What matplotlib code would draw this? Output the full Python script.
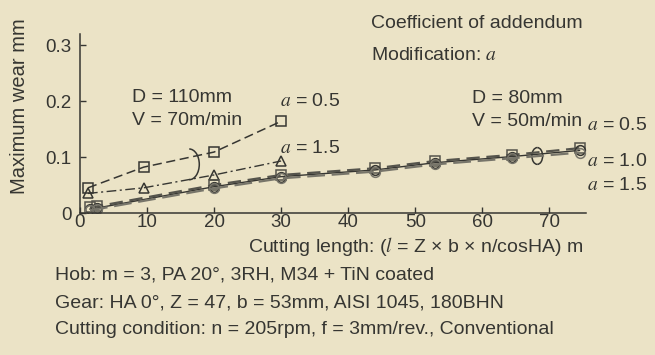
import matplotlib.pyplot as plt
from matplotlib.patches import Arc

plt.rcParams['font.family'] = ['Liberation Sans', 'DejaVu Sans']
plt.rcParams['mathtext.fontset'] = 'stix'

bg = '#ebe3c6'
ink = '#363632'

# D = 110mm, V = 70m/min
x_110 = [1.2, 9.5, 20, 30]
y_110_a05 = [0.045, 0.082, 0.109, 0.164]
y_110_a15 = [0.035, 0.045, 0.068, 0.093]

# D = 80mm, V = 50m/min
x_80 = [1.5, 2.6, 20, 30, 44, 53, 64.5, 74.5]
y_80_a05 = [0.010, 0.012, 0.050, 0.068, 0.080, 0.093, 0.104, 0.116]
y_80_a10 = [0.007, 0.009, 0.047, 0.065, 0.077, 0.090, 0.101, 0.112]
y_80_a15 = [0.005, 0.007, 0.044, 0.062, 0.074, 0.087, 0.098, 0.108]

xticks = [0, 10, 20, 30, 40, 50, 60, 70]
yticks = [0, 0.1, 0.2, 0.3]
ytick_labels = ['0', '0.1', '0.2', '0.3']

fig = plt.figure(figsize=(6.55, 3.55), dpi=100, facecolor=bg)
ax = fig.add_axes([0.122, 0.40, 0.773, 0.504], facecolor=bg)

mk = dict(markersize=7, markerfacecolor='none', markeredgewidth=1.1)
ax.plot(x_110, y_110_a05, ls=(0, (6, 3)), marker='s', color=ink, lw=1.1, **mk)
ax.plot(x_110, y_110_a15, ls=(0, (7, 2.5, 1.5, 2.5)), marker='^', color=ink, lw=1.0, **mk)
ax.plot(x_80, y_80_a05, ls=(0, (6, 3)), marker='s', color='#55544c', lw=1.6, **mk)
ax.plot(x_80, y_80_a10, ls='-', marker='o', color=ink, lw=1.0, **mk)
ax.plot(x_80, y_80_a15, ls=(0, (8, 3)), marker='o', color='#77756a', lw=1.6, **mk)

# brackets linking the curves
ax.add_patch(Arc((16.3, 0.087), 3.0, 0.055, theta1=-90, theta2=90, color=ink, lw=1.1))
ax.add_patch(Arc((68.2, 0.102), 1.6, 0.030, theta1=90, theta2=270, color=ink, lw=1.1))
ax.add_patch(Arc((68.2, 0.102), 1.6, 0.030, theta1=-80, theta2=80, color=ink, lw=1.1))

ax.set_xlim(0, 75.5)
ax.set_ylim(0, 0.32)
ax.set_xticks(xticks)
ax.set_yticks(yticks, ytick_labels)
for s in ['top', 'right']:
    ax.spines[s].set_visible(False)
for s in ['left', 'bottom']:
    ax.spines[s].set_color(ink)
    ax.spines[s].set_linewidth(1.1)
ax.tick_params(direction='in', length=4, width=1.0, colors=ink, labelsize=13.5)
ax.tick_params(axis='y', pad=6)
ax.tick_params(axis='x', pad=1)
ax.set_ylabel('Maximum wear mm', fontsize=14.5, color=ink)
ax.yaxis.set_label_coords(-0.1, 0.6)

fs = 14
ts = dict(fontsize=fs, color=ink, va='baseline')
ax.text(7.8, 0.198, 'D = 110mm', **ts)
ax.text(7.8, 0.157, 'V = 70m/min', **ts)
ax.text(29.9, 0.191, '$a$ = 0.5', **ts)
ax.text(29.9, 0.107, '$a$ = 1.5', **ts)
ax.text(58.4, 0.196, 'D = 80mm', **ts)
ax.text(58.4, 0.155, 'V = 50m/min', **ts)
ax.text(75.6, 0.148, '$a$ = 0.5', clip_on=False, **ts)
ax.text(75.6, 0.084, '$a$ = 1.0', clip_on=False, **ts)
ax.text(75.6, 0.041, '$a$ = 1.5', clip_on=False, **ts)
ax.text(43.4, 0.330, 'Coefficient of addendum', clip_on=False, **ts)
ax.text(43.4, 0.273, 'Modification: $a$', **ts)

fig.text(0.89, 0.290, 'Cutting length: ($l$ = Z × b × n/cosHA) m', ha='right', fontsize=fs, color=ink)
fig.text(0.084, 0.213, 'Hob: m = 3, PA 20°, 3RH, M34 + TiN coated', fontsize=fs, color=ink)
fig.text(0.084, 0.135, 'Gear: HA 0°, Z = 47, b = 53mm, AISI 1045, 180BHN', fontsize=fs, color=ink)
fig.text(0.084, 0.059, 'Cutting condition: n = 205rpm, f = 3mm/rev., Conventional', fontsize=fs, color=ink)

fig.savefig('out.png', dpi=100, facecolor=bg)
